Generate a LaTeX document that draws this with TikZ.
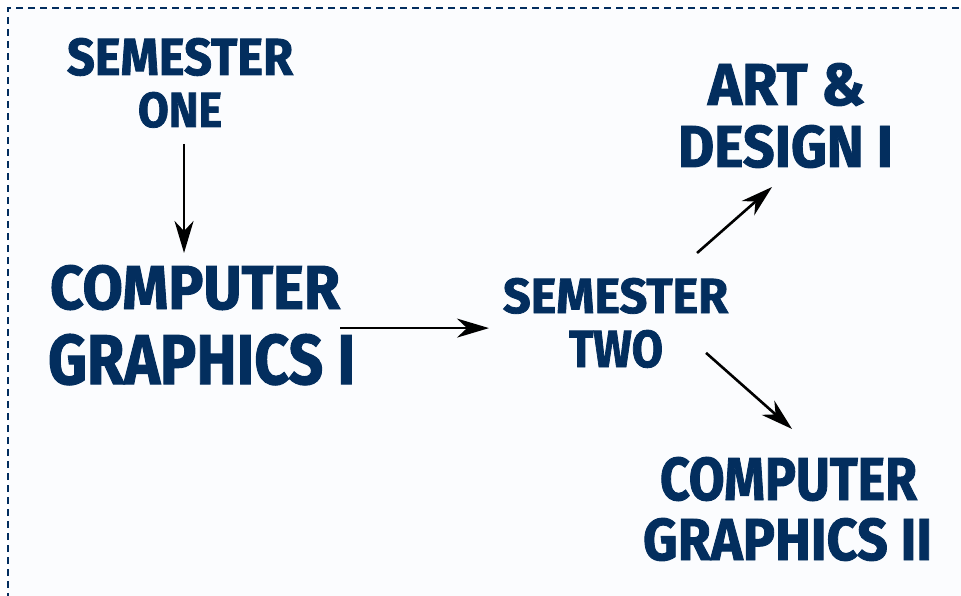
\documentclass[tikz,border=0pt]{standalone}
\usepackage{fontspec}
\setmainfont{Fira Sans}[BoldFeatures={FakeBold=1.6}]
\usepackage{graphicx}
\usetikzlibrary{arrows.meta,fit,calc}
\definecolor{navy}{RGB}{3,46,94}
\definecolor{bgpale}{RGB}{251,252,254}
\tikzset{
  lineword/.style={inner sep=0pt, outer sep=0pt, anchor=base west, text=navy, font=\bfseries},
  labelbox/.style={inner sep=0pt, outer sep=0pt},
  arr/.style={draw=black, line width=2.6pt, -{Stealth[length=32pt,width=19pt,inset=10pt]}},
  frame/.style={draw=navy, line width=2.4pt, dash pattern=on 7pt off 5pt}
}
\newcommand{\fitword}[3]{\resizebox{#1pt}{#2pt}{#3}}
\begin{document}
\begin{tikzpicture}[x=1pt,y=-1pt]
\useasboundingbox (0,0) rectangle (961,596);
\fill[white] (0,0) rectangle (961,596);
\fill[bgpale] (8,8) rectangle (961,596);
\draw[frame] (8,600) -- (8,8) -- (965,8);

% Semester one
\node[lineword] (s1a) at (67,75) {\fitword{226}{37}{SEMESTER}};
\node[lineword] (s1b) at (138,127) {\fitword{84}{35}{ONE}};
\node[labelbox, fit=(s1a)(s1b)] (semone) {};

% Computer graphics I
\node[lineword] (c1a) at (50,309) {\fitword{290}{44}{COMPUTER}};
\node[lineword] (c1b) at (48,384) {\fitword{307}{50}{GRAPHICS I}};
\node[labelbox, fit=(c1a)(c1b)] (cg1) {};

% Semester two
\node[lineword] (s2a) at (503,313) {\fitword{225}{35}{SEMESTER}};
\node[lineword] (s2b) at (569,367) {\fitword{94}{37}{TWO}};
\node[labelbox, fit=(s2a)(s2b)] (semtwo) {};

% Art & design I
\node[lineword] (ada) at (708,105) {\fitword{157}{42}{ART \&}};
\node[lineword] (adb) at (678,167) {\fitword{215}{42}{DESIGN I}};
\node[labelbox, fit=(ada)(adb)] (art) {};

% Computer graphics II
\node[lineword] (c2a) at (660,500) {\fitword{257}{43}{COMPUTER}};
\node[lineword] (c2b) at (643,560) {\fitword{289}{42}{GRAPHICS II}};
\node[labelbox, fit=(c2a)(c2b)] (cg2) {};

% connectors
\coordinate (a1s) at ($(semone.south)+(4,16)$);
\draw[arr] (a1s) -- (a1s |- {$(cg1.north)+(0,-12)$});
\coordinate (a2s) at ($(cg1.east)+(-15,3)$);
\draw[arr] (a2s) -- (a2s -| {$(semtwo.west)+(-14,0)$});
\draw[arr] ($(semtwo.north east)+(-31,-25)$) -- ($(art.south)+(-13.5,19)$);
\draw[arr] ($(semtwo.south east)+(-22,-15)$) -- ($(cg2.north)+(4.5,-28)$);
\end{tikzpicture}
\end{document}
